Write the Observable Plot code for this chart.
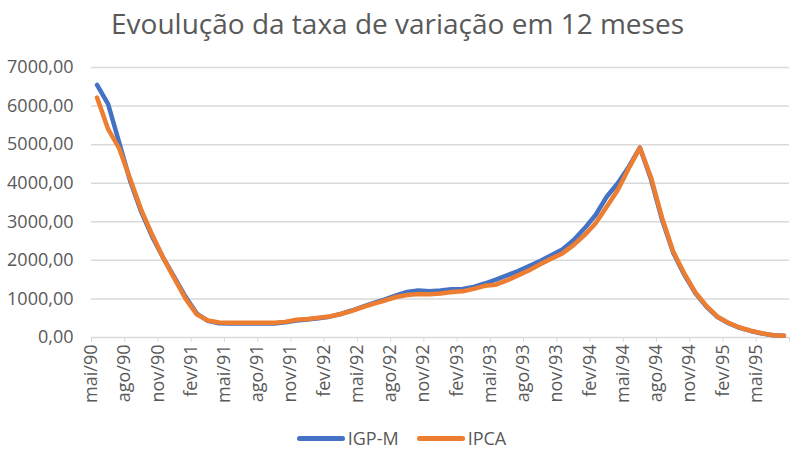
<!DOCTYPE html>
<html>
<head>
<meta charset="utf-8">
<script src="https://cdn.jsdelivr.net/npm/d3@7"></script>
<script src="https://cdn.jsdelivr.net/npm/@observablehq/plot@0.6"></script>
<style>
  html, body { margin: 0; padding: 0; background: #fff; }
  body { width: 795px; height: 463px; overflow: hidden; font-family: "Open Sans", "Noto Sans", sans-serif; color: #595959; }
  #title { height: 50px; line-height: 46px; text-align: center; font-size: 28px; color: #595959; }
  #legend { display: flex; justify-content: center; align-items: center; gap: 18px; font-size: 18px; color: #595959; margin-top: 16px; margin-left: 8px; }
  .item { display: flex; align-items: center; gap: 3px; }
  .sw { width: 48px; height: 5px; border-radius: 3px; }
</style>
</head>
<body>
<div id="title">Evoulução da taxa de variação em 12 meses</div>
<div id="chart"></div>
<div id="legend"></div>
<script>
const months = ["mai/90","jun/90","jul/90","ago/90","set/90","out/90","nov/90","dez/90","jan/91","fev/91","mar/91","abr/91",
  "mai/91","jun/91","jul/91","ago/91","set/91","out/91","nov/91","dez/91","jan/92","fev/92","mar/92","abr/92",
  "mai/92","jun/92","jul/92","ago/92","set/92","out/92","nov/92","dez/92","jan/93","fev/93","mar/93","abr/93",
  "mai/93","jun/93","jul/93","ago/93","set/93","out/93","nov/93","dez/93","jan/94","fev/94","mar/94","abr/94",
  "mai/94","jun/94","jul/94","ago/94","set/94","out/94","nov/94","dez/94","jan/95","fev/95","mar/95","abr/95",
  "mai/95","jun/95","jul/95"];
const igpm = [6550,6050,5050,4050,3250,2600,2050,1550,1050,620,430,370,
  360,360,360,360,365,395,440,465,500,540,610,700,
  800,900,990,1090,1180,1220,1200,1220,1250,1260,1310,1400,
  1500,1610,1720,1850,1985,2135,2280,2520,2830,3175,3650,4000,
  4430,4920,4100,3050,2200,1630,1150,800,530,370,250,170,
  105,60,45];
const ipca = [6220,5400,4900,4100,3300,2650,2050,1520,1000,600,440,390,
  385,385,385,385,385,405,460,480,510,545,610,690,
  790,880,960,1050,1100,1130,1120,1140,1180,1200,1260,1340,
  1370,1480,1610,1745,1900,2045,2180,2395,2655,2960,3390,3825,
  4390,4920,4150,3100,2230,1660,1170,820,540,380,260,175,
  110,60,45];
const yTicks = [0,1000,2000,3000,4000,5000,6000,7000];
const labelStep = 3;
const series = [
  {name: "IGP-M", values: igpm, color: "#4472C4"},
  {name: "IPCA", values: ipca, color: "#ED7D31"}
];

const labelIdx = months.map((m, i) => i).filter(i => i % labelStep === 0);
const boundaries = d3.range(-0.5, months.length, labelStep);
const rows = s => s.values.map((v, i) => ({i, v}));
const fmt = v => v.toFixed(2).replace(".", ",");

const chart = Plot.plot({
  width: 795,
  height: 360,
  marginLeft: 91,
  marginRight: 6,
  marginTop: 17,
  marginBottom: 73,
  style: {fontSize: "18px", fontFamily: "'Open Sans', sans-serif", color: "#595959", background: "white"},
  x: {domain: [-0.5, months.length - 0.5], ticks: boundaries, tickSize: 5, tickFormat: () => "", label: null},
  y: {domain: [0, 7000], ticks: yTicks, tickFormat: fmt, tickSize: 0, tickPadding: 18, label: null},
  marks: [
    Plot.ruleY(yTicks, {stroke: "#d9d9d9", strokeWidth: 1.5}),
    Plot.text(labelIdx, {x: d => d, text: d => months[d], frameAnchor: "bottom", rotate: -90, textAnchor: "end", dy: 7, fontSize: 18, fill: "#595959"}),
    ...series.map(s => Plot.line(rows(s), {x: "i", y: "v", stroke: s.color, strokeWidth: 4.5, strokeLinejoin: "round", strokeLinecap: "round"}))
  ]
});
chart.querySelectorAll('[aria-label^="x-axis"] line, [aria-label^="x-axis"] path').forEach(el => el.setAttribute("stroke", "#d9d9d9"));
document.getElementById("chart").appendChild(chart);

const legend = document.getElementById("legend");
for (const s of series) {
  const item = document.createElement("div");
  item.className = "item";
  const sw = document.createElement("span");
  sw.className = "sw";
  sw.style.background = s.color;
  const t = document.createElement("span");
  t.textContent = s.name;
  item.appendChild(sw); item.appendChild(t);
  legend.appendChild(item);
}
</script>
</body>
</html>
